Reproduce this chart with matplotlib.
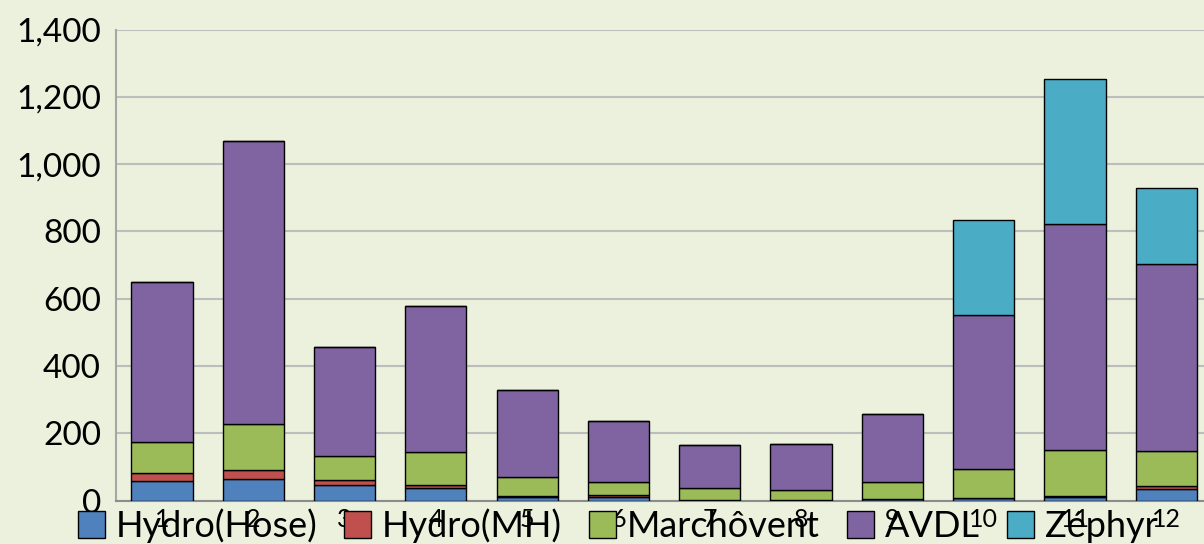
import numpy as np
import matplotlib.pyplot as plt

plt.rcParams['font.family'] = ['Lato', 'DejaVu Sans']

# monthly values
months = ['1', '2', '3', '4', '5', '6', '7', '8', '9', '10', '11', '12']
hydro_hose = [57, 64, 47, 36, 10, 10, 2, 1, 4, 7, 11, 33]
hydro_mh = [24, 28, 15, 11, 4, 7, 1, 0, 1, 2, 4, 10]
marchovent = [92, 137, 71, 96, 56, 39, 35, 31, 50, 84, 135, 103]
avdl = [478, 841, 323, 434, 260, 181, 128, 135, 202, 458, 672, 557]
zephyr = [0, 0, 0, 0, 0, 0, 0, 0, 0, 282, 432, 227]

series = [
    ('Hydro(Hose)', hydro_hose, '#4F81BD'),
    ('Hydro(MH)', hydro_mh, '#C0504D'),
    ('Marchôvent', marchovent, '#9BBB59'),
    ('AVDL', avdl, '#8064A2'),
    ('Zéphyr', zephyr, '#4BACC6'),
]

bg = '#ECF1DD'
fig = plt.figure(figsize=(12.04, 5.44), dpi=100, facecolor=bg)
ax = fig.add_axes([0.0966, 0.0798, 0.91, 0.8658], facecolor=bg)

x = np.arange(len(months))
bottom = np.zeros(len(months))
for name, vals, col in series:
    ax.bar(x, vals, width=0.67, bottom=bottom, color=col, edgecolor='black',
           linewidth=1.0, label=name, zorder=3)
    bottom += np.array(vals)

ax.set_xlim(-0.5, len(months) - 0.5)
ax.set_ylim(0, 1400)
ax.set_yticks(range(0, 1401, 200))
ax.set_yticklabels([f'{v:,}' for v in range(0, 1401, 200)], fontsize=24)
ax.set_xticks(x)
ax.set_xticklabels(months, fontsize=18)
ax.tick_params(axis='y', length=0, pad=11)
ax.tick_params(axis='x', length=0, pad=5)

ax.grid(axis='y', color='#BDBDBD', linewidth=1.5, zorder=0)
for s in ['top', 'right']:
    ax.spines[s].set_visible(False)
ax.spines['left'].set_color('#A6A6A6')
ax.spines['left'].set_linewidth(1.5)
ax.spines['bottom'].set_color('#8C8C8C')
ax.spines['bottom'].set_linewidth(1.5)

# legend sits low, over the month labels, as in the original
leg = fig.legend(loc='lower center', bbox_to_anchor=(0.513, -0.058), ncol=5,
                 frameon=False, fontsize=26, handlelength=0.75, handleheight=0.75,
                 handletextpad=0.3, columnspacing=0.75)

fig.savefig('out.png', dpi=100, facecolor=bg)
